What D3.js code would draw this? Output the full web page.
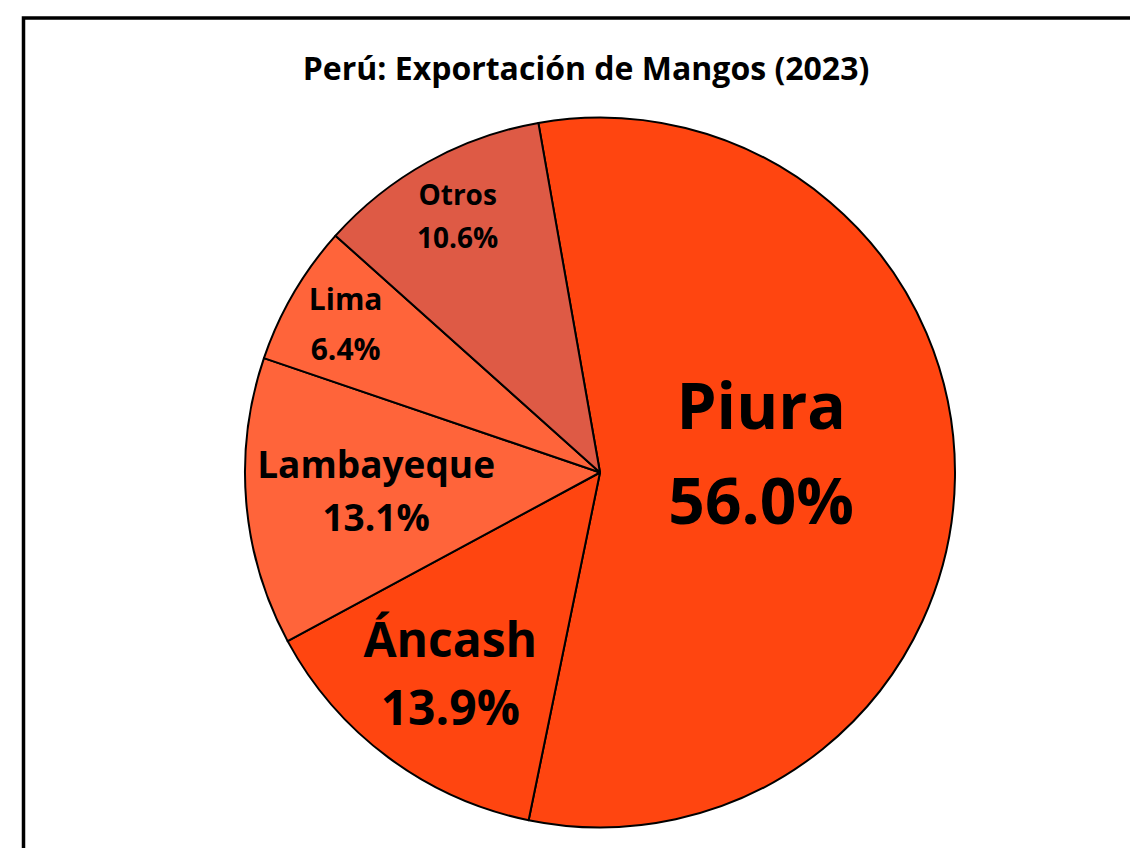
<!DOCTYPE html>
<html lang="es">
<head>
    <meta charset="UTF-8">
    <title>Perú: Exportación de Mangos (2023)</title>
    <script src="https://d3js.org/d3.v7.min.js"></script>
    <style>
    body { margin: 0; background: #fff; }
    text { font-family: "Open Sans", Lato, sans-serif; font-weight: bold; fill: #000; }
    </style>
</head>
<body>
    <svg id="chart" width="1130" height="848"></svg>
    <script>
        // data
        const regiones = ["Piura", "Áncash", "Lambayeque", "Lima", "Otros"];
        const participacion = [56.0, 13.9, 13.1, 6.4, 10.6];
        const colores = ["#FF4510", "#FF4510", "#FF643A", "#FF643A", "#DE5A45"];

        // label layout (radius as share of pie radius, font size, line gap, extra turn in degrees)
        const labelRadio = [0.457, 0.707, 0.633, 0.83, 0.825];
        const labelSize = [64, 48, 37, 30, 28];
        const labelGap = [95, 68, 53, 50, 43];
        const labelTurn = [-7.4, 0, 0, 0, 0];

        const svg = d3.select("#chart");
        const cx = 600, cy = 472.5, r = 355;
        const startDeg = -10;

        // border of chart area
        svg.append("rect")
            .attr("x", 23.5).attr("y", 18)
            .attr("width", 1300).attr("height", 1000)
            .attr("fill", "none")
            .attr("stroke", "#000")
            .attr("stroke-width", 3.5);

        svg.append("text")
            .attr("x", 586).attr("y", 80)
            .attr("text-anchor", "middle")
            .attr("font-size", 32)
            .text("Perú: Exportación de Mangos (2023)");

        const data = regiones.map((d, i) => ({ region: d, valor: participacion[i], i: i }));

        const pie = d3.pie()
            .value(d => d.valor)
            .sort(null)
            .startAngle(startDeg * Math.PI / 180)
            .endAngle((startDeg + 360) * Math.PI / 180);

        const arcs = pie(data);
        const arc = d3.arc().innerRadius(0).outerRadius(r);

        const g = svg.append("g").attr("transform", `translate(${cx},${cy})`);

        g.selectAll("path.slice").data(arcs)
            .join("path")
            .attr("class", "slice")
            .attr("d", arc)
            .attr("fill", d => colores[d.data.i])
            .attr("stroke", "#000")
            .attr("stroke-width", 2)
            .attr("stroke-linejoin", "round");

        const labels = g.selectAll("text.lbl").data(arcs)
            .join("text")
            .attr("class", "lbl")
            .attr("text-anchor", "middle")
            .attr("font-size", d => labelSize[d.data.i])
            .attr("transform", d => {
                const k = d.data.i;
                const a = (d.startAngle + d.endAngle) / 2 + labelTurn[k] * Math.PI / 180;
                const rr = labelRadio[k] * r;
                return `translate(${rr * Math.sin(a)},${-rr * Math.cos(a)})`;
            });

        labels.append("tspan")
            .attr("x", 0)
            .attr("y", d => -labelGap[d.data.i] / 2 + labelSize[d.data.i] * 0.36)
            .text(d => d.data.region);

        labels.append("tspan")
            .attr("x", 0)
            .attr("y", d => labelGap[d.data.i] / 2 + labelSize[d.data.i] * 0.36)
            .text(d => d3.format(".1f")(d.data.valor) + "%");
    </script>
</body>
</html>
